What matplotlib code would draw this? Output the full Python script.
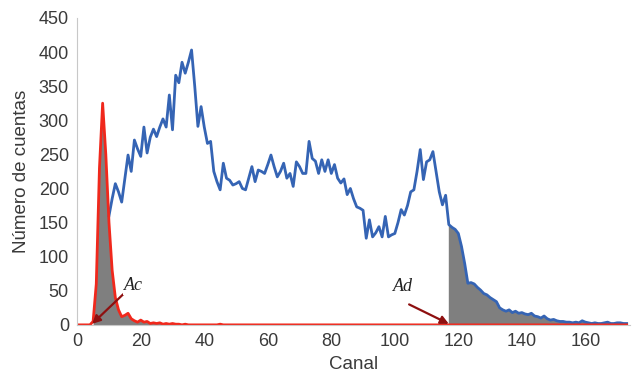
import numpy as np
import matplotlib
matplotlib.use("Agg")
import matplotlib.pyplot as plt

# canal / cuentas
blue_start = 10
blue_counts = [160, 185, 207, 195, 180, 215, 249, 225, 271, 258,
               247, 290, 252, 275, 287, 276, 290, 302, 290, 337,
               286, 366, 355, 385, 369, 385, 403, 350, 291, 320,
               290, 266, 269, 225, 210, 198, 237, 215, 212, 205,
               207, 210, 200, 198, 215, 232, 210, 227, 225, 222,
               235, 249, 232, 217, 225, 237, 215, 222, 203, 239,
               232, 222, 222, 269, 244, 240, 222, 242, 225, 242,
               222, 235, 215, 208, 214, 191, 200, 185, 173, 171,
               168, 127, 154, 129, 135, 144, 129, 159, 129, 132,
               134, 150, 169, 161, 175, 195, 198, 225, 257, 213,
               239, 242, 254, 225, 195, 176, 190, 147, 143, 140,
               134, 115, 90, 61, 62, 60, 55, 51, 46, 44,
               40, 37, 34, 25, 22, 20, 22, 18, 20, 17,
               18, 16, 15, 17, 13, 12, 10, 13, 9, 7,
               8, 6, 5, 5, 4, 4, 3, 4, 3, 6,
               4, 3, 2, 3, 2, 2, 3, 4, 2, 2,
               3, 3, 2, 2]
red_peak = [0, 0, 0, 0, 0, 5, 60, 230, 325, 250,
            150, 80, 40, 22, 12, 14, 17, 9, 6, 4,
            7, 4, 5, 2, 3, 2, 3, 1, 2, 1,
            2, 1, 1, 0, 1, 0, 0, 0, 0, 0,
            0, 0, 0, 0, 0, 1]
n_channels = 174
ac_channel = 5
ad_channel = 117

blue_x = np.arange(blue_start, blue_start + len(blue_counts))
blue_y = np.array(blue_counts)
red_y = np.zeros(n_channels)
red_y[:len(red_peak)] = red_peak
red_x = np.arange(n_channels)

fig = plt.figure(figsize=(6.33, 3.9), dpi=100)
ax = fig.add_axes([0.122, 0.167, 0.873, 0.787])

m = blue_x >= ad_channel
ax.fill_between(blue_x[m], 0, blue_y[m], color="#7f7f7f", lw=0)
ax.vlines(ad_channel, 0, blue_y[blue_x == ad_channel][0], color="#7f7f7f", lw=1)
mr = red_x >= ac_channel
ax.fill_between(red_x[mr], 0, red_y[mr], color="#7f7f7f", lw=0)

ax.plot(blue_x, blue_y, color="#3564b4", lw=2.0, solid_joinstyle="round")
ax.plot(red_x, red_y, color="#f0281c", lw=2.0, solid_joinstyle="round")

arrow = dict(arrowstyle="-|>", color="#8e1010", lw=1.6, mutation_scale=12,
             shrinkA=0, shrinkB=0)
ax.annotate("", xy=(4.7, 1.5), xytext=(14.5, 45), arrowprops=arrow)
ax.annotate("", xy=(117, 1.5), xytext=(104.5, 30), arrowprops=arrow)
ax.text(17.8, 58, "Ac", family="Liberation Serif", style="italic", fontsize=13,
        ha="center", va="center", color="#222222",
        bbox=dict(facecolor="white", edgecolor="none", pad=1))
ax.text(102.5, 56, "Ad", family="Liberation Serif", style="italic", fontsize=13,
        ha="center", va="center", color="#222222",
        bbox=dict(facecolor="white", edgecolor="none", pad=1))

ax.set_xlim(0, 174)
ax.set_ylim(0, 450)
ax.set_xticks(range(0, 161, 20))
ax.set_yticks(range(0, 451, 50))
lab_font = "Liberation Sans"
for lab in ax.get_xticklabels() + ax.get_yticklabels():
    lab.set_family(lab_font)
    lab.set_fontsize(13)
    lab.set_color("#3a3a3a")
ax.tick_params(length=0, pad=6)
ax.set_xlabel("Canal", family=lab_font, fontsize=13.5, color="#3a3a3a", labelpad=4)
ax.set_ylabel("Número de cuentas", family=lab_font, fontsize=13.5, color="#3a3a3a", labelpad=6)
for s in ["top", "right"]:
    ax.spines[s].set_visible(False)
ax.spines["left"].set_color("#c8c8c8")
ax.spines["bottom"].set_color("#c8c8c8")

fig.savefig("out.png", dpi=100)
